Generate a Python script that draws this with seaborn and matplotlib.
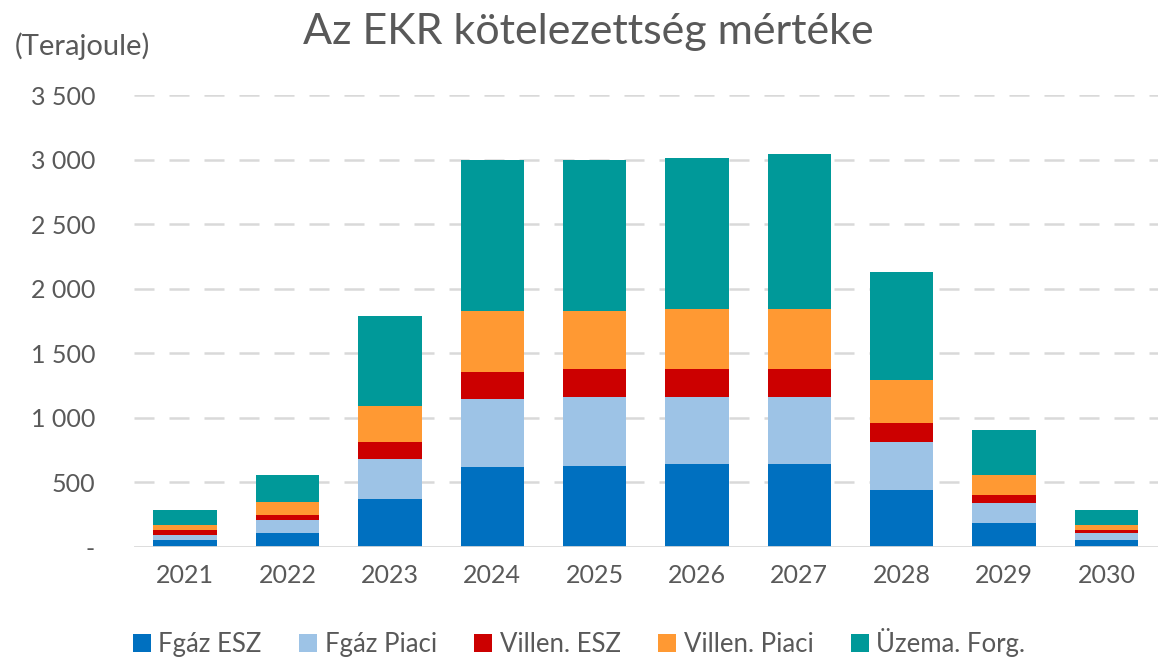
import pandas as pd
import numpy as np
import matplotlib
matplotlib.use('Agg')
import matplotlib.pyplot as plt
import seaborn as sns

# Values (Terajoule)
years = ['2021', '2022', '2023', '2024', '2025', '2026', '2027', '2028', '2029', '2030']
fgaz_esz = [57, 111, 369, 619, 625, 640, 640, 441, 188, 54]
fgaz_piaci = [39, 100, 310, 524, 535, 520, 520, 369, 155, 57]
villen_esz = [39, 39, 134, 211, 215, 215, 215, 152, 60, 21]
villen_piaci = [39, 98, 276, 470, 450, 465, 465, 330, 155, 39]
uzema_forg = [114, 209, 697, 1169, 1170, 1175, 1200, 836, 348, 116]

series_names = ['Fgáz ESZ', 'Fgáz Piaci', 'Villen. ESZ', 'Villen. Piaci', 'Üzema. Forg.']
series_values = [fgaz_esz, fgaz_piaci, villen_esz, villen_piaci, uzema_forg]
colors = ['#0070C0', '#9DC3E6', '#CC0000', '#FF9933', '#009999']

ytick_values = [0, 500, 1000, 1500, 2000, 2500, 3000, 3500]
ytick_labels = ['-', '500', '1 000', '1 500', '2 000', '2 500', '3 000', '3 500']

sns.set_style('white')
plt.rcParams['font.family'] = ['Lato', 'DejaVu Sans']
text_color = '#595959'

fig = plt.figure(figsize=(11.58, 6.57), dpi=100)
ax = fig.add_axes([0.1157, 0.1674, 0.884, 0.688])

# stacked bars: each series sits on the running total of the ones below
bottom = np.zeros(len(years))
for name, vals, col in zip(series_names, series_values, colors):
    df = pd.DataFrame({'year': years, 'value': vals})
    sns.barplot(data=df, x='year', y='value', color=col, bottom=bottom,
                width=0.62, ax=ax, label=name, zorder=3, saturation=1,
                linewidth=0)
    bottom = bottom + np.array(vals)

handles, labels = ax.get_legend_handles_labels()
if ax.get_legend() is not None:
    ax.get_legend().remove()

ax.set_ylim(0, 3500)
ax.set_yticks(ytick_values)
ax.set_yticklabels(ytick_labels)
ax.set_xlabel('')
ax.set_ylabel('')
ax.tick_params(axis='both', length=0, labelsize=18, colors=text_color)
ax.tick_params(axis='y', pad=28)
ax.tick_params(axis='x', pad=12)

for y in ytick_values[1:]:
    ax.axhline(y, color='#D9D9D9', linewidth=1.8, linestyle=(0, (8, 6)), zorder=1)
ax.axhline(0, color='#D9D9D9', linewidth=2, zorder=4)

for s in ax.spines.values():
    s.set_visible(False)

fig.text(0.508, 0.952, 'Az EKR kötelezettség mértéke', ha='center', va='center',
         fontsize=31, color=text_color)
fig.text(0.013, 0.93, '(Terajoule)', ha='left', va='center', fontsize=21, color=text_color)

fig.legend(handles, labels, loc='center', bbox_to_anchor=(0.5, 0.022), ncol=5,
           frameon=False, fontsize=18.5, handlelength=0.7, handleheight=0.7,
           handletextpad=0.3, columnspacing=1.45, labelcolor=text_color)

fig.savefig('out.png', dpi=100)
